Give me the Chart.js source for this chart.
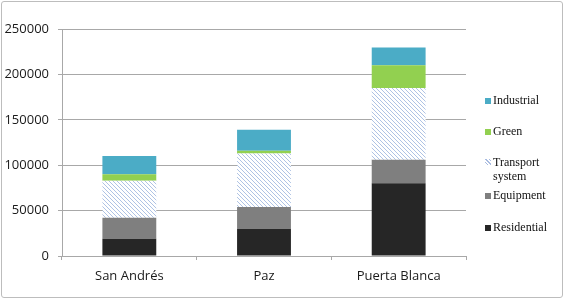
<!DOCTYPE html>
<html>
<head>
<meta charset="utf-8">
<script src="https://cdn.jsdelivr.net/npm/chart.js@4/dist/chart.umd.min.js"></script>
<style>
  html, body { margin: 0; padding: 0; background: #fff; }
  #wrap { position: relative; width: 565px; height: 300px; overflow: hidden; }
  #c { position: absolute; left: 0; top: 0; }
  #frame { position: absolute; left: 1px; top: 1px; width: 560px; height: 295px;
           border: 1px solid #bdbdbd; border-radius: 3px; pointer-events: none; }
  .lg { position: absolute; font-family: "Liberation Serif", "Times New Roman", serif;
        font-size: 12px; color: #111; line-height: 13.5px; white-space: nowrap; }
  .sw { position: absolute; width: 6px; height: 6px; }
</style>
</head>
<body>
<div id="wrap">
  <canvas id="c" width="565" height="300"></canvas>
  <div id="legend"></div>
  <div id="frame"></div>
</div>
<script>
const categories = ["San Andrés", "Paz", "Puerta Blanca"];
const seriesNames = ["Residential", "Equipment", "Transport system", "Green", "Industrial"];
const residential = [19000, 30000, 80000];
const equipment = [23000, 24000, 26000];
const transport = [41000, 59000, 79000];
const green = [7000, 3000, 25000];
const industrial = [20000, 23000, 19500];
const yTicks = [0, 50000, 100000, 150000, 200000, 250000];

function makePattern() {
  const p = document.createElement('canvas');
  p.width = 4; p.height = 4;
  const g = p.getContext('2d');
  g.fillStyle = '#ffffff';
  g.fillRect(0, 0, 4, 4);
  g.fillStyle = 'rgba(110,145,205,0.55)';
  for (let i = 0; i < 4; i++) g.fillRect(i, i, 1, 1);
  return document.getElementById('c').getContext('2d').createPattern(p, 'repeat');
}
const pattern = makePattern();

const colors = ['#262626', '#7f7f7f', pattern, '#92d050', '#4bacc6'];
const seriesData = [residential, equipment, transport, green, industrial];

const datasets = seriesNames.map((name, i) => ({
  label: name,
  data: seriesData[i],
  backgroundColor: colors[i],
  borderWidth: 0,
  barPercentage: 0.4,
  categoryPercentage: 1.0
}));

const tickFont = { family: "'Open Sans', 'DejaVu Sans', sans-serif", size: 13 };
const gridColor = '#a8a8a8';

new Chart(document.getElementById('c'), {
  type: 'bar',
  data: { labels: categories, datasets },
  options: {
    responsive: false,
    animation: false,
    devicePixelRatio: 1,
    layout: { padding: { left: 0, right: 99, top: 29, bottom: 0 } },
    plugins: { legend: { display: false }, tooltip: { enabled: false } },
    scales: {
      x: {
        stacked: true,
        grid: { drawOnChartArea: false, drawTicks: true, tickLength: 4, color: gridColor, offset: true },
        border: { display: true, color: gridColor },
        ticks: { font: tickFont, color: '#1a1a1a', padding: 8 },
        afterFit: s => { s.height = 44; }
      },
      y: {
        stacked: true,
        min: 0, max: 250000,
        afterBuildTicks: s => { s.ticks = yTicks.map(v => ({ value: v })); },
        grid: { color: gridColor, tickLength: 4 },
        border: { display: true, color: gridColor },
        ticks: { font: tickFont, color: '#1a1a1a', padding: 9, callback: v => String(v) },
        afterFit: s => { s.width = 62; }
      }
    }
  }
});

// HTML legend (real text), built from the series names
const legendEl = document.getElementById('legend');
const legendItems = [
  { idx: 4, top: 94 },
  { idx: 3, top: 125 },
  { idx: 2, top: 156, text: ["Transport", "system"] },
  { idx: 1, top: 189 },
  { idx: 0, top: 221 }
];
legendItems.forEach(it => {
  const sw = document.createElement('div');
  sw.className = 'sw';
  sw.style.left = '485px';
  sw.style.top = (it.top + 4) + 'px';
  if (it.idx === 2) {
    sw.style.background = 'repeating-linear-gradient(45deg, #fff 0 1.5px, #a8bbe0 1.5px 2.5px)';
    sw.style.top = (it.top + 3) + 'px';
  } else {
    sw.style.background = colors[it.idx];
  }
  legendEl.appendChild(sw);
  const t = document.createElement('div');
  t.className = 'lg';
  t.style.left = '493px';
  t.style.top = it.top + 'px';
  t.innerHTML = (it.text || [seriesNames[it.idx]]).join('<br>');
  legendEl.appendChild(t);
});
</script>
</body>
</html>
